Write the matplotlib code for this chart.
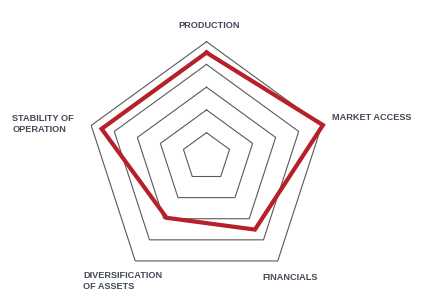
import numpy as np
import matplotlib
matplotlib.use('Agg')
import matplotlib.pyplot as plt

categories = ['PRODUCTION', 'MARKET ACCESS', 'FINANCIALS',
              'DIVERSIFICATION\nOF ASSETS', 'STABILITY OF\nOPERATION']
values = [4.55, 5.05, 3.4, 2.8, 4.55]
levels = [1, 2, 3, 4, 5]
max_level = 5

# geometry in pixel coords
cx, cy, R = 206.5, 162.9, 121.2
text_color = '#434957'
red = '#b71f29'

fig = plt.figure(figsize=(4.22, 3.03), dpi=100)
ax = fig.add_axes([0, 0, 1, 1])
ax.set_xlim(0, 422)
ax.set_ylim(303, 0)
ax.axis('off')

n = len(categories)
angles = np.pi / 2 - np.arange(n) * 2 * np.pi / n

def to_xy(vals, shift=0.0):
    r = np.asarray(vals, dtype=float) / max_level * R
    x = cx + r * np.cos(angles)
    y = cy - shift - r * np.sin(angles)
    return np.append(x, x[0]), np.append(y, y[0])

# inner rings in the original sit slightly higher than the outer one
for lv in levels:
    x, y = to_xy([lv] * n, shift=(max_level - lv) * 1.5)
    ax.plot(x, y, color='#5a5a5a', lw=0.8, solid_joinstyle='miter')

x, y = to_xy(values)
ax.plot(x, y, color=red, lw=3.0, solid_joinstyle='miter')

font = dict(fontsize=6.6, fontweight='bold', color=text_color,
            family=['Liberation Sans', 'DejaVu Sans'], linespacing=1.15)
ax.text(209, 25.7, categories[0], ha='center', va='center', **font)
ax.text(332, 118, categories[1], ha='left', va='center', **font)
ax.text(262, 277.7, categories[2], ha='left', va='center', **font)
ax.text(83.3, 281, categories[3], ha='left', va='center', **font)
ax.text(12.3, 124, categories[4], ha='left', va='center', **font)

fig.savefig('out.png', dpi=100)
